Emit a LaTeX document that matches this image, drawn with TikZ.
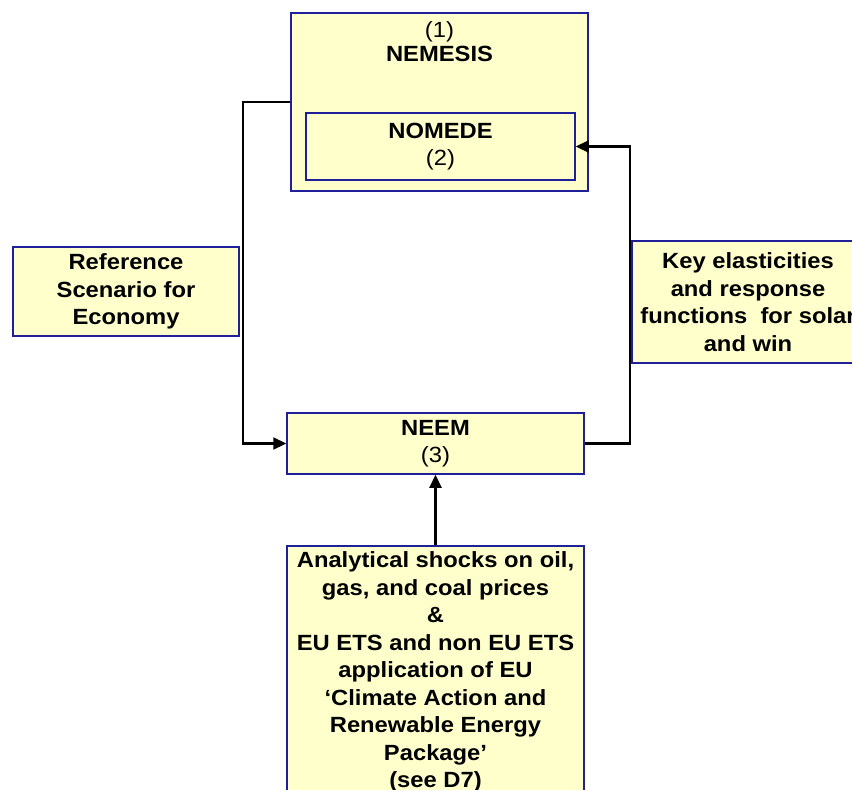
\documentclass[tikz,border=0pt]{standalone}
\usepackage{fontspec}
\setmainfont{Liberation Sans}[FakeStretch=1.08]
\usetikzlibrary{arrows.meta}
\definecolor{boxfill}{HTML}{FFFFCC}
\definecolor{boxline}{HTML}{1F1F99}
\begin{document}
\begin{tikzpicture}[x=1pt,y=1pt,yscale=-1,xscale=1,
    box/.style={draw=boxline, fill=boxfill, line width=1.5pt, align=center, inner sep=0pt,
        font=\fontsize{22}{27.5}\selectfont\bfseries},
    title/.style={align=center, inner sep=0pt, font=\fontsize{22}{24}\selectfont\bfseries},
    conn/.style={line width=2.2pt, -{Triangle[length=13pt,width=12pt]}}]
        \useasboundingbox (0,0) rectangle (852,790);
        \clip (0,0) rectangle (852,790);
        % models
        \node [box, minimum width=297pt, minimum height=178pt] (nemesis) at (439.5,102) {};
        \node [title] (nemtitle) at (439.5,42) {\mdseries (1)\\NEMESIS};
        \node [box, minimum width=269pt, minimum height=67pt] (nomede) at (440.5,146.5) {NOMEDE\\\mdseries (2)};
        \node [box, minimum width=297pt, minimum height=61pt] (neem) at (435.5,443.5) {NEEM\\\mdseries (3)};
        % inputs
        \node [box, minimum width=226pt, minimum height=89pt] (refscen) at (126,291.5) {Reference\\Scenario for\\Economy};
        \node [box, minimum width=232pt, minimum height=122pt] (keyelast) at (748,302) {Key elasticities\\and response\\functions\ \ for solar\\and win};
        \node [box, minimum width=297pt, minimum height=252pt] (shocks) at (435.5,672) {Analytical shocks on oil,\\gas, and coal prices\\\&\\EU ETS and non EU ETS\\application of EU\\`Climate Action and\\Renewable Energy\\Package'\\(see D7)};
        % links
        \draw [conn] (nemesis.west) -- ++(-47,0) |- (neem.west);
        \draw [conn] (neem.east) -- ++(45,0) |- (nomede.east);
        \draw [conn] (shocks.north) -- (neem.south);
\end{tikzpicture}
\end{document}
